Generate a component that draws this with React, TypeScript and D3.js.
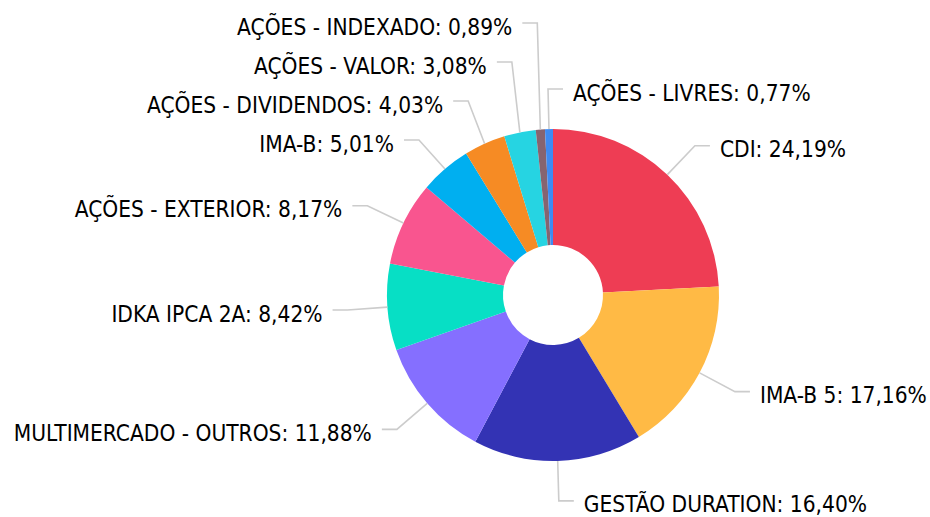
import React, { useMemo } from "react";
import * as d3 from "d3";

const categories = [
  "CDI",
  "IMA-B 5",
  "GESTÃO DURATION",
  "MULTIMERCADO - OUTROS",
  "IDKA IPCA 2A",
  "AÇÕES - EXTERIOR",
  "IMA-B",
  "AÇÕES - DIVIDENDOS",
  "AÇÕES - VALOR",
  "AÇÕES - INDEXADO",
  "AÇÕES - LIVRES",
];
const values = [24.19, 17.16, 16.4, 11.88, 8.42, 8.17, 5.01, 4.03, 3.08, 0.89, 0.77];
const colors = [
  "#EE3D54",
  "#FFBA45",
  "#3333B4",
  "#856FFF",
  "#07DFC5",
  "#F9558F",
  "#00AFF0",
  "#F68B24",
  "#26D4E2",
  "#866470",
  "#3D8BF3",
];

const W = 930;
const H = 517;
const CX = 553;
const CY = 295;
const R_OUT = 166;
const R_IN = 50;
const R_BEND = 206;
const SPACING = 39;
const MIN_Y = 23;

type Lbl = {
  i: number;
  right: boolean;
  ox: number;
  oy: number;
  bx: number;
  y: number;
  text: string;
};

export default function App() {
  const arcs = useMemo(
    () =>
      d3
        .pie<number>()
        .sort(null)
        .value((d) => d)
        .startAngle(0)
        .endAngle(2 * Math.PI)(values),
    []
  );
  const arcGen = d3.arc<d3.PieArcDatum<number>>().innerRadius(R_IN).outerRadius(R_OUT);

  const labels = useMemo(() => {
    const all: Lbl[] = arcs.map((a, i) => {
      const mid = (a.startAngle + a.endAngle) / 2;
      const s = Math.sin(mid);
      const c = Math.cos(mid);
      return {
        i,
        right: s > -0.05,
        ox: CX + R_OUT * s,
        oy: CY - R_OUT * c,
        bx: CX + R_BEND * s,
        y: CY - R_BEND * c,
        text: `${categories[i]}: ${values[i].toFixed(2).replace(".", ",")}%`,
      };
    });
    [true, false].forEach((side) => {
      const g = all.filter((l) => l.right === side).sort((a, b) => a.y - b.y);
      for (let k = g.length - 2; k >= 0; k--) {
        g[k].y = Math.min(g[k].y, g[k + 1].y - SPACING);
      }
      if (g.length && g[0].y < MIN_Y) g[0].y = MIN_Y;
      for (let k = 1; k < g.length; k++) {
        g[k].y = Math.max(g[k].y, g[k - 1].y + SPACING);
      }
    });
    return all;
  }, [arcs]);

  return (
    <svg
      width={W}
      height={H}
      style={{ position: "absolute", left: 0, top: 0, background: "#fff" }}
      fontFamily="'DejaVu Sans Condensed', 'DejaVu Sans', sans-serif"
    >
      <g transform={`translate(${CX},${CY})`}>
        {arcs.map((a, i) => (
          <path key={i} d={arcGen(a) || ""} fill={colors[i]} />
        ))}
      </g>
      {labels.map((l) => {
        const dir = l.right ? 1 : -1;
        return (
          <g key={l.i}>
            <polyline
              points={`${l.ox},${l.oy} ${l.bx},${l.y} ${l.bx + dir * 15},${l.y}`}
              fill="none"
              stroke="#cccccc"
              strokeWidth={1.6}
            />
            <text
              x={l.bx + dir * 25}
              y={l.y + 3.5}
              dominantBaseline="central"
              textAnchor={l.right ? "start" : "end"}
              fontSize={22.5}
              fill="#000"
            >
              {l.text}
            </text>
          </g>
        );
      })}
    </svg>
  );
}
